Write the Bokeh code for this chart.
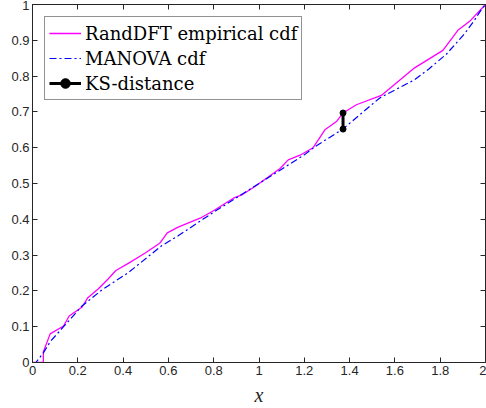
from bokeh.plotting import figure
from bokeh.models import Range1d, FixedTicker, LinearAxis, Legend, LegendItem, CustomJSTickFormatter
from bokeh.embed import file_html
from bokeh.resources import INLINE

# Empirical cdf (RandDFT)
emp_x = [0, 0.048, 0.048, 0.078, 0.137, 0.162, 0.219, 0.243, 0.291, 0.335, 0.368, 0.423,
         0.496, 0.563, 0.595, 0.643, 0.740, 0.799, 0.887, 0.924, 0.990, 1.093, 1.129,
         1.181, 1.239, 1.291, 1.342, 1.371, 1.430, 1.540, 1.687, 1.812, 1.878, 1.930, 2.0]
emp_y = [0, 0, 0.03, 0.080, 0.102, 0.130, 0.155, 0.180, 0.206, 0.234, 0.257, 0.277,
         0.305, 0.334, 0.362, 0.378, 0.403, 0.424, 0.459, 0.468, 0.495, 0.542, 0.566,
         0.579, 0.600, 0.650, 0.673, 0.697, 0.720, 0.746, 0.823, 0.872, 0.928, 0.953, 1.0]

# MANOVA cdf
man_x = [0, 0.015, 0.048, 0.078, 0.137, 0.217, 0.305, 0.423, 0.57, 0.643, 0.8, 0.9, 1.0,
         1.1, 1.2, 1.247, 1.37, 1.533, 1.687, 1.75, 1.827, 1.907, 1.95, 1.981, 2.0]
man_y = [0, 0, 0.027, 0.058, 0.100, 0.157, 0.202, 0.251, 0.326, 0.354, 0.420, 0.460, 0.500,
         0.540, 0.580, 0.603, 0.652, 0.739, 0.790, 0.820, 0.861, 0.918, 0.955, 0.985, 1.0]

# KS distance
ks_x = [1.371, 1.371]
ks_y = [0.652, 0.697]

x_ticks = [0, 0.2, 0.4, 0.6, 0.8, 1.0, 1.2, 1.4, 1.6, 1.8, 2.0]
x_labels = ["0", "0.2", "0.4", "0.6", "0.8", "1", "1.2", "1.4", "1.6", "1.8", "2"]
y_ticks = [0, 0.1, 0.2, 0.3, 0.4, 0.5, 0.6, 0.7, 0.8, 0.9, 1.0]
y_labels = ["0", "0.1", "0.2", "0.3", "0.4", "0.5", "0.6", "0.7", "0.8", "0.9", "1"]

AX = "#262626"

p = figure(width=486, height=408, output_backend="svg", toolbar_location=None,
           x_range=Range1d(0, 2), y_range=Range1d(0, 1),
           min_border_left=32, min_border_right=1, min_border_top=4, min_border_bottom=10)
p.grid.visible = False
p.outline_line_color = AX
p.outline_line_width = 1
p.background_fill_color = "white"
p.border_fill_color = "white"

for ax, ticks, labels in ((p.xaxis[0], x_ticks, x_labels), (p.yaxis[0], y_ticks, y_labels)):
    ax.ticker = FixedTicker(ticks=ticks)
    ax.major_label_overrides = {t: l for t, l in zip(ticks, labels)}
    ax.major_tick_in = 5
    ax.major_tick_out = 0
    ax.minor_tick_line_color = None
    ax.axis_line_color = AX
    ax.major_tick_line_color = AX
    ax.major_label_text_color = AX
    ax.major_label_text_font = "Liberation Sans"
    ax.major_label_text_font_size = "13px"
    ax.major_label_standoff = 3

p.xaxis[0].axis_label = "x"
p.xaxis[0].axis_label_text_font = "Liberation Serif"
p.xaxis[0].axis_label_text_font_style = "italic"
p.xaxis[0].axis_label_text_font_size = "20px"
p.xaxis[0].axis_label_text_color = AX
p.xaxis[0].axis_label_standoff = 6

blank = CustomJSTickFormatter(code="return '';")
for loc, ticks in (("right", y_ticks), ("above", x_ticks)):
    a = LinearAxis(ticker=FixedTicker(ticks=ticks), major_tick_in=5, major_tick_out=0,
                   minor_tick_line_color=None, axis_line_color=AX, major_tick_line_color=AX,
                   formatter=blank, major_label_standoff=0)
    p.add_layout(a, loc)

r_emp = p.line(emp_x, emp_y, line_color="#FF00FF", line_width=1.3)
r_man = p.line(man_x, man_y, line_color="#0000FF", line_width=1.2, line_dash="7 3 2 3")
r_ks = p.line(ks_x, ks_y, line_color="black", line_width=3)
r_ksm = p.scatter(ks_x, ks_y, size=6, color="black")

legend = Legend(items=[
    LegendItem(label="RandDFT empirical cdf", renderers=[r_emp]),
    LegendItem(label="MANOVA cdf", renderers=[r_man]),
    LegendItem(label="KS-distance", renderers=[r_ks, r_ksm]),
], location="top_left")
legend.label_text_font = "DejaVu Serif"
legend.label_text_font_size = "18px"
legend.label_text_color = "black"
legend.border_line_color = AX
legend.border_line_width = 1
legend.background_fill_alpha = 1
legend.glyph_width = 32
legend.glyph_height = 24
legend.label_height = 24
legend.label_standoff = 4
legend.padding = 4
legend.spacing = 1
legend.margin = 12
p.add_layout(legend, "center")

open("out.html", "w").write(file_html(p, INLINE))
